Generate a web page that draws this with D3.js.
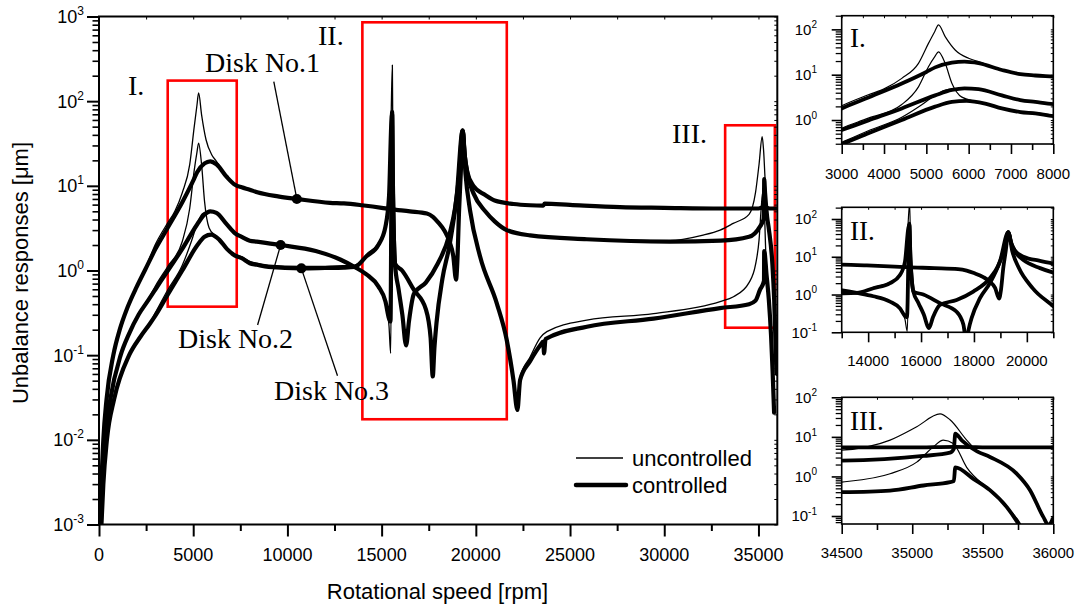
<!DOCTYPE html>
<html><head><meta charset="utf-8">
<script src="https://cdn.jsdelivr.net/npm/d3@7/dist/d3.min.js"></script>
<style>html,body{margin:0;padding:0;background:#fff}svg{display:block;background:#fff}</style>
</head><body>
<svg id="chart" width="1077" height="609"></svg>
<script>
// ================= DATA (rpm, response in µm) =================
const thickDisk1 = [[70,0.001],[130,0.003],[230,0.01],[400,0.03],[760,0.1],[1100,0.2],[1500,0.36],[2000,0.64],[2450,1.02],[3000,1.8],[3630,3.15],[4420,6.4],[5000,11.5],[5208,14.5],[5603,18.4],[5900,19.5],[6233,18],[6785,12.7],[7220,10.3],[7574,9.6],[8000,9.0],[8400,8.4],[9500,7.5],[10500,7.0],[12260,6.3],[13000,6.2],[13950,5.9],[15000,5.5],[15450,5.3],[16500,5.0],[17400,4.7],[17723,4.3],[18000,3.7],[18353,2.9],[18600,2.2],[18800,1.5],[18950,0.78],[19020,1.3],[19108,5],[19200,14],[19300,45],[19400,24],[19550,14.5],[19870,10],[20500,7.8],[21000,6.7],[22000,6.1],[22880,5.9],[23580,5.85],[23650,6.15],[25000,5.95],[27650,5.6],[30000,5.5],[33000,5.4],[35000,5.4],[35300,5.6],[35600,5.4],[36000,5.4]];

const thickDisk2 = [[100,0.001],[180,0.003],[320,0.01],[600,0.03],[1150,0.1],[1600,0.18],[2100,0.3],[2600,0.44],[3000,0.6],[3630,0.98],[4420,1.8],[5208,3.5],[5603,4.6],[5900,5.0],[6233,4.8],[6785,3.5],[7220,2.75],[7574,2.5],[8000,2.25],[8372,2.19],[9640,2.0],[11500,1.7],[12800,1.35],[13570,1.1],[14196,0.9],[14826,0.65],[15204,0.43],[15393,0.27],[15470,0.25],[15555,75],[15600,8],[15645,2.7],[15710,1.2],[15900,0.6],[16100,0.3],[16300,0.13],[16450,0.25],[16715,0.53],[17345,0.72],[17975,1.2],[18605,2.7],[18900,5.5],[19108,13],[19300,45],[19420,22],[19600,12.5],[19870,8.2],[20500,5],[21000,3.8],[21640,3.0],[22880,2.6],[25890,2.34],[30300,2.19],[33000,2.25],[34500,2.5],[35079,3.3],[35268,4.0],[35295,5.0],[35305,12],[35351,8.2],[35460,4.3],[35551,3.1],[35740,1.18],[35835,0.45],[35929,0.095],[35965,0.06],[36000,0.09]];

const thickDisk3 = [[130,0.001],[230,0.003],[420,0.01],[800,0.03],[1600,0.1],[2200,0.165],[2700,0.235],[3000,0.295],[3630,0.51],[4420,1.0],[5208,1.97],[5603,2.5],[5950,2.65],[6391,2.3],[6785,1.8],[7220,1.5],[7574,1.4],[8000,1.22],[8372,1.17],[9000,1.1],[10740,1.06],[12000,1.07],[13000,1.08],[13570,1.1],[14196,1.47],[14826,2.0],[15204,3.3],[15393,7.5],[15519,57],[15557,70],[15600,10],[15645,2.7],[15710,1.2],[16086,1.0],[16715,0.59],[17345,0.35],[17600,0.16],[17714,0.056],[17800,0.12],[17912,0.24],[18227,0.8],[18605,2.0],[18983,7.5],[19300,45],[19450,14],[19695,5.1],[20226,1.46],[21112,0.41],[21643,0.15],[22000,0.05],[22206,0.0225],[22350,0.051],[22880,0.085],[23410,0.13],[23580,0.145],[23620,0.105],[23700,0.155],[25890,0.217],[29430,0.27],[32965,0.36],[34500,0.40],[34843,0.44],[35079,0.59],[35268,0.72],[35295,0.76],[35305,1.7],[35433,0.87],[35551,0.45],[35669,0.17],[35752,0.064],[35830,0.021]];

const thinDisk1 = [[70,0.001],[130,0.003],[230,0.01],[400,0.03],[760,0.1],[1100,0.2],[1500,0.36],[2000,0.65],[2450,1.05],[3000,2.05],[3630,3.6],[4025,5.0],[4420,8.3],[4814,17.8],[5050,49],[5200,90],[5287,125],[5445,69],[5681,35],[5997,23],[6233,19.5],[6785,12.7],[7220,10.3],[7574,9.6],[8000,9.0],[8400,8.4],[9500,7.5],[10500,7.0],[12260,6.3],[13000,6.2],[13950,5.9],[15000,5.5],[15450,5.3],[16500,5.0],[17400,4.7],[17723,4.3],[18000,3.7],[18353,2.9],[18600,2.2],[18800,1.5],[18950,0.8],[19020,1.3],[19108,5],[19200,14],[19300,45],[19400,24],[19550,14.5],[19870,10],[20500,7.8],[21000,6.7],[22000,6.1],[22880,5.9],[25000,5.95],[27650,5.6],[30000,5.5],[33000,5.4],[35000,5.4],[36000,5.4]];

const thinDisk2 = [[100,0.001],[180,0.003],[320,0.01],[600,0.03],[1150,0.1],[1600,0.18],[2100,0.3],[2600,0.45],[3000,0.66],[3630,1.1],[4420,2.2],[4814,5.4],[5050,15],[5200,25],[5287,32],[5445,17.8],[5603,6.5],[5840,3.2],[6155,2.6],[6391,2.35],[6785,1.85],[7220,1.55],[7574,1.45],[8000,1.28],[8372,1.22],[9000,1.16],[10740,1.12],[12000,1.12],[13000,1.14],[13570,1.16],[14000,1.35],[14196,1.55],[14826,2.1],[15204,3.5],[15393,8],[15500,60],[15570,267],[15610,10],[15645,2.7],[15710,1.2],[16086,1.0],[16715,0.59],[17345,0.35],[17600,0.16],[17714,0.056],[17800,0.12],[17912,0.24],[18227,0.8],[18605,2.0],[18983,7.5],[19300,45],[19450,14],[19695,5.1],[20226,1.46],[21112,0.41],[21643,0.15],[22000,0.05],[22206,0.0225],[22350,0.055],[22880,0.095],[23410,0.16],[23768,0.19],[25890,0.26],[29430,0.31],[32965,0.43],[33673,0.49],[34500,0.72],[34843,1.17],[35032,2.3],[35150,5.6],[35220,8.3],[35291,6.8],[35386,1.7],[35551,0.45],[35669,0.17],[35764,0.066],[35830,0.021]];

const thinDisk3 = [[130,0.001],[230,0.003],[420,0.01],[800,0.03],[1600,0.1],[2200,0.165],[2700,0.24],[3000,0.32],[3630,0.58],[4420,1.15],[4900,2.2],[5200,3.5],[5500,4.7],[5900,5.0],[6233,4.8],[6785,3.5],[7220,2.75],[7574,2.5],[8000,2.25],[8372,2.19],[9640,2.0],[11500,1.7],[12800,1.35],[13570,1.1],[14196,0.9],[14826,0.65],[15204,0.42],[15393,0.22],[15480,0.105],[15555,20],[15645,2.7],[15710,1.2],[15900,0.6],[16100,0.3],[16300,0.13],[16450,0.25],[16715,0.53],[17345,0.72],[17975,1.2],[18605,2.7],[18900,5.5],[19108,13],[19300,45],[19420,22],[19600,12.5],[19870,8.2],[20500,5],[21000,3.8],[21640,3.0],[22880,2.6],[25890,2.34],[30300,2.25],[32000,2.6],[32965,3.0],[33660,3.6],[34500,4.6],[34843,8.3],[35032,18],[35197,38],[35268,27],[35386,8.3],[35460,4.4],[35551,3.1],[35740,1.18],[35835,0.45],[35929,0.095],[35965,0.06],[36000,0.09]];

// zoom-window rectangles drawn on the main plot: [rpmFrom, rpmTo, µmLow, µmHigh]
const boxI   = [3647, 7310, 0.374, 175];
const boxII  = [13978, 21643, 0.0175, 854];
const boxIII = [33232, 35870, 0.211, 51.9];

// Tick values
const mainXMajor = [0,5000,10000,15000,20000,25000,30000,35000];
const mainXMinor = [2500,7500,12500,17500,22500,27500,32500];
const mainYMajor = [1e-3,1e-2,1e-1,1e0,1e1,1e2,1e3];
const inIXMajor = [3000,4000,5000,6000,7000,8000];
const inIXMinor = [3500,4500,5500,6500,7500];
const inIIXLabeled = [14000,16000,18000,20000];
const inIIXMinor = [13000,15000,17000,19000,21000];
const inIIIXMajor = [34500,35000,35500,36000];
const inIIIXMinor = [34750,35250,35750];
const inIYMajor = [1e0,1e1,1e2];
const inIIYMajor = [1e-1,1e0,1e1,1e2];
const inIIIYMajor = [1e-1,1e0,1e1,1e2];

// Texts
const xTitle = "Rotational speed [rpm]";
const yTitle = "Unbalance responses [\u03bcm]";
const legendLabels = ["uncontrolled", "controlled"];
const regionLabels = ["I.", "II.", "III."];
const diskNames = ["Disk No.1", "Disk No.2", "Disk No.3"];
const diskMarkRpm = [10500, 9640, 10740];

// ================= RENDERING =================
const SANS = "'Liberation Sans', Arial, Helvetica, sans-serif";
const SERIF = "'Liberation Serif', 'Times New Roman', Times, serif";
const svg = d3.select('#chart');
const defs = svg.append('defs');
svg.append('rect').attr('width',1077).attr('height',609).attr('fill','#fff');

const thickSeries = [thickDisk1, thickDisk2, thickDisk3];
const thinSeries = [thinDisk1, thinDisk2, thinDisk3];

function logMinors(domain){
  const a = Math.min(...domain), b = Math.max(...domain), out = [];
  for (let e = Math.floor(Math.log10(a)); e <= Math.ceil(Math.log10(b)); e++)
    for (let m = 2; m <= 9; m++) { const v = m*Math.pow(10,e); if (v >= a*0.999 && v <= b*1.001) out.push(v); }
  return out;
}
function styleAxis(sel, w){
  sel.select('.domain').remove();
  sel.selectAll('line').attr('stroke','#000').attr('stroke-width', w);
}

function drawPanel(p){
  const g = svg.append('g');
  const [x0,x1] = p.x.range(); const [yb,yt] = p.y.range();
  const id = 'clip-' + p.name;
  defs.append('clipPath').attr('id', id).append('rect')
    .attr('x', x0).attr('y', yt).attr('width', x1-x0).attr('height', yb-yt);

  const inner = g.append('g').attr('clip-path', `url(#${id})`);
  if (p.boxes) {
    p.boxes.forEach(b => {
      inner.append('rect')
        .attr('x', p.x(b[0])).attr('y', p.y(b[3]))
        .attr('width', p.x(b[1]) - p.x(b[0])).attr('height', p.y(b[2]) - p.y(b[3]))
        .attr('fill','none').attr('stroke','#ff0000').attr('stroke-width', 2.6);
    });
  }
  const line = d3.line().x(d => p.x(d[0])).y(d => p.y(d[1])).curve(d3.curveMonotoneX);
  thickSeries.forEach(s => inner.append('path').attr('d', line(s)).attr('fill','none')
    .attr('stroke','#000').attr('stroke-width', p.thickW).attr('stroke-linejoin','round').attr('stroke-linecap','round'));
  thinSeries.forEach(s => inner.append('path').attr('d', line(s)).attr('fill','none')
    .attr('stroke','#000').attr('stroke-width', p.thinW).attr('stroke-linejoin','round'));

  // frame
  g.append('rect').attr('x', x0).attr('y', yt).attr('width', x1-x0).attr('height', yb-yt)
    .attr('fill','none').attr('stroke','#000').attr('stroke-width', p.frameW);

  // bottom ticks (outward)
  g.append('g').attr('transform',`translate(0,${yb})`)
    .call(d3.axisBottom(p.x).tickValues(p.xMajor).tickSize(p.majLen).tickSizeOuter(0).tickFormat(''))
    .call(s => styleAxis(s, p.tickW));
  g.append('g').attr('transform',`translate(0,${yb})`)
    .call(d3.axisBottom(p.x).tickValues(p.xMinor).tickSize(p.minLen).tickSizeOuter(0).tickFormat(''))
    .call(s => styleAxis(s, p.tickW));
  // top mirror ticks (inward)
  g.append('g').attr('transform',`translate(0,${yt})`)
    .call(d3.axisTop(p.x).tickValues(p.xMajor.concat(p.xMinor)).tickSize(-p.mirLen).tickSizeOuter(0).tickFormat(''))
    .call(s => styleAxis(s, 1));
  // left ticks (outward)
  const yMinor = logMinors(p.y.domain());
  g.append('g').attr('transform',`translate(${x0},0)`)
    .call(d3.axisLeft(p.y).tickValues(p.yMajor).tickSize(p.majLen).tickSizeOuter(0).tickFormat(''))
    .call(s => styleAxis(s, p.tickW));
  g.append('g').attr('transform',`translate(${x0},0)`)
    .call(d3.axisLeft(p.y).tickValues(yMinor).tickSize(p.minLen).tickSizeOuter(0).tickFormat(''))
    .call(s => styleAxis(s, p.tickW*0.8));
  // right mirror ticks (inward)
  g.append('g').attr('transform',`translate(${x1},0)`)
    .call(d3.axisRight(p.y).tickValues(p.yMajor.concat(yMinor)).tickSize(-p.mirLen).tickSizeOuter(0).tickFormat(''))
    .call(s => styleAxis(s, 1));

  // x labels
  g.selectAll('text.xl').data(p.xLabels).enter().append('text')
    .attr('x', d => p.x(d)).attr('y', p.xLabelY).attr('text-anchor','middle')
    .attr('font-family', SANS).attr('font-size', p.labelSize).text(d => String(d));
  // y labels 10^n
  p.yMajor.forEach(v => {
    const e = Math.round(Math.log10(v));
    const t = g.append('text').attr('x', p.yLabelX).attr('y', p.y(v) + p.labelSize*0.36)
      .attr('text-anchor','end').attr('font-family', SANS).attr('font-size', p.labelSize);
    t.append('tspan').text('10');
    t.append('tspan').attr('font-size', p.supSize).attr('dy', -p.labelSize*0.45).text(String(e));
  });
  return g;
}

// ---- main panel ----
const mainX = d3.scaleLinear().domain([0,36000]).range([99, 777.3]);
const mainY = d3.scaleLog().domain([1e-3,1e3]).range([524.5, 16.5]);
drawPanel({name:'main', x:mainX, y:mainY, xMajor:mainXMajor, xMinor:mainXMinor, xLabels:mainXMajor,
  yMajor:mainYMajor, boxes:[boxI, boxII, boxIII], thickW:4.2, thinW:1.3, frameW:2, tickW:2,
  majLen:12, minLen:6.5, mirLen:3, labelSize:18, supSize:12, xLabelY:561, yLabelX:84});

// ---- insets ----
const inX1 = d3.scaleLinear().domain([3000,8000]).range([841.7,1053.3]);
const inY1 = d3.scaleLog().domain([0.296,200]).range([144,15.7]);
drawPanel({name:'in1', x:inX1, y:inY1, xMajor:inIXMajor, xMinor:inIXMinor, xLabels:inIXMajor,
  yMajor:inIYMajor, thickW:3.8, thinW:1.2, frameW:1.6, tickW:1.6,
  majLen:10, minLen:6, mirLen:2.5, labelSize:15, supSize:10, xLabelY:179, yLabelX:817});

const inX2 = d3.scaleLinear().domain([13000,21000]).range([841.7,1053.3]);
const inY2 = d3.scaleLog().domain([0.1,204]).range([332.3,207.3]);
drawPanel({name:'in2', x:inX2, y:inY2, xMajor:inIIXLabeled, xMinor:inIIXMinor, xLabels:inIIXLabeled,
  yMajor:inIIYMajor, thickW:3.8, thinW:1.2, frameW:1.6, tickW:1.6,
  majLen:10, minLen:6, mirLen:2.5, labelSize:15, supSize:10, xLabelY:366, yLabelX:817});

const inX3 = d3.scaleLinear().domain([34500,36000]).range([841.7,1053.3]);
const inY3 = d3.scaleLog().domain([0.0628,100]).range([524,397.3]);
drawPanel({name:'in3', x:inX3, y:inY3, xMajor:inIIIXMajor, xMinor:inIIIXMinor, xLabels:inIIIXMajor,
  yMajor:inIIIYMajor, thickW:3.8, thinW:1.2, frameW:1.6, tickW:1.6,
  majLen:10, minLen:6, mirLen:2.5, labelSize:15, supSize:10, xLabelY:558, yLabelX:817});

// ---- axis titles ----
svg.append('text').attr('x', 437.5).attr('y', 598.5).attr('text-anchor','middle')
  .attr('font-family', SANS).attr('font-size', 22).text(xTitle);
svg.append('text').attr('transform','translate(27.5,273) rotate(-90)').attr('text-anchor','middle')
  .attr('font-family', SANS).attr('font-size', 22).text(yTitle);

// ---- region labels ----
const regionPos = [[128,95],[318,45],[672,143]];
regionLabels.forEach((t,i) => svg.append('text').attr('x', regionPos[i][0]).attr('y', regionPos[i][1])
  .attr('font-family', SERIF).attr('font-size', 28).text(t));
const insetLabelPos = [[850,46.7],[850,240],[850,430]];
regionLabels.forEach((t,i) => svg.append('text').attr('x', insetLabelPos[i][0]).attr('y', insetLabelPos[i][1])
  .attr('font-family', SERIF).attr('font-size', 27).text(t));

// ---- disk annotations ----
const diskTextPos = [[205,72],[178,348],[274,400]];
const diskLineEnd = [[273.8,81.7],[257.6,325],[337.5,375.8]];
diskNames.forEach((name,i) => {
  const pt = thickSeries[i].find(d => d[0] === diskMarkRpm[i]);
  const px = mainX(pt[0]), py = mainY(pt[1]);
  svg.append('line').attr('x1', diskLineEnd[i][0]).attr('y1', diskLineEnd[i][1]).attr('x2', px).attr('y2', py)
    .attr('stroke','#000').attr('stroke-width',1.3);
  svg.append('circle').attr('cx', px).attr('cy', py).attr('r', 5).attr('fill','#000');
  svg.append('text').attr('x', diskTextPos[i][0]).attr('y', diskTextPos[i][1])
    .attr('font-family', SERIF).attr('font-size', 28).text(name);
});

// ---- legend ----
const legW = [1.3, 4.5];
const legY = [458, 485];
legendLabels.forEach((t,i) => {
  svg.append('line').attr('x1', 576).attr('x2', i ? 626 : 623).attr('y1', legY[i]).attr('y2', legY[i])
    .attr('stroke','#000').attr('stroke-width', legW[i]).attr('stroke-linecap', i ? 'round' : 'butt');
  svg.append('text').attr('x', 632).attr('y', legY[i] + 7.7).attr('font-family', SANS).attr('font-size', 22).text(t);
});
</script>
</body></html>
